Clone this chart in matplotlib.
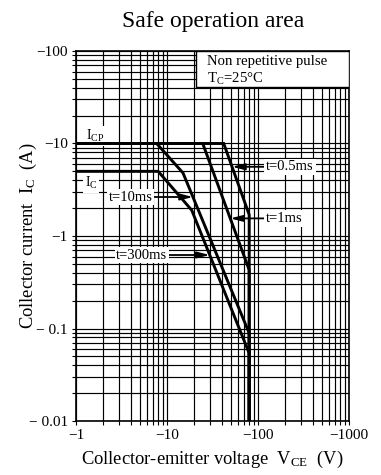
import numpy as np
import matplotlib
matplotlib.use("Agg")
import matplotlib.pyplot as plt
from matplotlib.patches import Rectangle

plt.rcParams['font.family'] = ['Liberation Serif', 'DejaVu Serif']
plt.rcParams['mathtext.fontset'] = 'custom'
plt.rcParams['mathtext.rm'] = 'Liberation Serif'
plt.rcParams['mathtext.it'] = 'Liberation Serif:italic'

# ---- data (magnitudes; axis labels show negative polarity) ----
v_10ms = [1, 7.7, 15, 80, 80]
i_10ms = [10, 10, 4.8, 0.089, 0.01]
v_300ms = [1, 8, 18.7, 80, 80]
i_300ms = [5, 5, 1.9, 0.054, 0.01]
v_1ms = [1, 24.7, 80, 80]
i_1ms = [10, 10, 0.43, 0.01]
v_05ms = [1, 42, 80, 80]
i_05ms = [10, 10, 1.7, 0.01]

x_ticks = [1, 10, 100, 1000]
x_tick_labels = ["\u22121", "\u221210", "\u2212100", "\u22121000"]
y_ticks = [0.01, 0.1, 1, 10, 100]
y_tick_labels = ["\u2212 0.01", "\u2212 0.1", "\u22121", "\u221210", "\u2212100"]

fig = plt.figure(figsize=(3.81, 4.75), dpi=100)
ax = fig.add_axes([76/381, 1-421/475, 273/381, 370/475])
ax.set_xscale('log')
ax.set_yscale('log')
ax.set_xlim(1, 1000)
ax.set_ylim(0.01, 100)

ax.grid(which='both', color='black', lw=0.85, zorder=1)
ax.set_axisbelow(True)

for v, i in [(v_10ms, i_10ms), (v_300ms, i_300ms), (v_1ms, i_1ms), (v_05ms, i_05ms)]:
    ax.plot(v, i, color='black', lw=2.1, zorder=3, solid_joinstyle='miter')

ax.set_xticks(x_ticks)
ax.set_xticklabels(x_tick_labels)
ax.set_yticks(y_ticks)
ax.set_yticklabels(y_tick_labels)
ax.tick_params(which='both', direction='out', length=3, width=0.8, labelsize=11, pad=3)
ax.tick_params(which='minor', labelleft=False, labelbottom=False)
for s in ax.spines.values():
    s.set_linewidth(1.2)

ax.set_xlabel(r"Collector-emitter voltage  V$_{\rm CE}$  (V)", fontsize=13.3, labelpad=5)
ax.set_ylabel(r"Collector current  I$_{\rm C}$  (A)", fontsize=13.3)
ax.yaxis.set_label_coords(-0.135, 0.5)

fig.text(213/381, 1-26.5/475, "Safe operation area", ha='center', va='baseline', fontsize=17)

# condition box
ax.add_patch(Rectangle((0.44, 0.9035), 0.56, 0.0965, transform=ax.transAxes,
                       facecolor='white', edgecolor='black', lw=1.0, zorder=4))
ax.text(0.479, 0.962, "Non repetitive pulse", transform=ax.transAxes, fontsize=10.6,
        ha='left', va='baseline', zorder=5)
ax.text(0.479, 0.915, r"T$_{\rm C}$=25$\degree$C", transform=ax.transAxes, fontsize=10.6,
        ha='left', va='baseline', zorder=5)

wbox = dict(boxstyle='square,pad=0.12', fc='white', ec='none')
ax.text(1.62, 10.9, r"I$_{\rm CP}$", fontsize=10, ha='center', va='baseline', bbox=wbox, zorder=2.5)
ax.text(1.46, 3.39, r"I$_{\rm C}$", fontsize=10, ha='center', va='baseline', bbox=wbox, zorder=2.5)


def x_at(vs, is_, y):
    lv = np.log10(vs)
    li = np.log10(is_)
    ly = np.log10(y)
    for k in range(len(vs) - 1):
        a, b = li[k], li[k+1]
        if (a - ly) * (b - ly) <= 0 and a != b:
            t = (ly - a) / (b - a)
            return 10 ** (lv[k] + t * (lv[k+1] - lv[k]))
    return None


arrow = dict(arrowstyle='-|>,head_length=0.7,head_width=0.18', color='black', lw=1.3,
             shrinkA=0, shrinkB=0)
labels = [("t=10ms", v_10ms, i_10ms, 2.64, 4.0),
          ("t=300ms", v_300ms, i_300ms, 0.623, 5.3),
          ("t=0.5ms", v_05ms, i_05ms, 5.6, 225),
          ("t=1ms", v_1ms, i_1ms, 1.55, 195)]
for txt, vs, is_, y, xt in labels:
    ax.annotate(txt, xy=(x_at(vs, is_, y), y), xytext=(xt, y), fontsize=10.5,
                ha='center', va='center', bbox=wbox, arrowprops=arrow, zorder=2.5)

fig.savefig("out.png", dpi=100)
